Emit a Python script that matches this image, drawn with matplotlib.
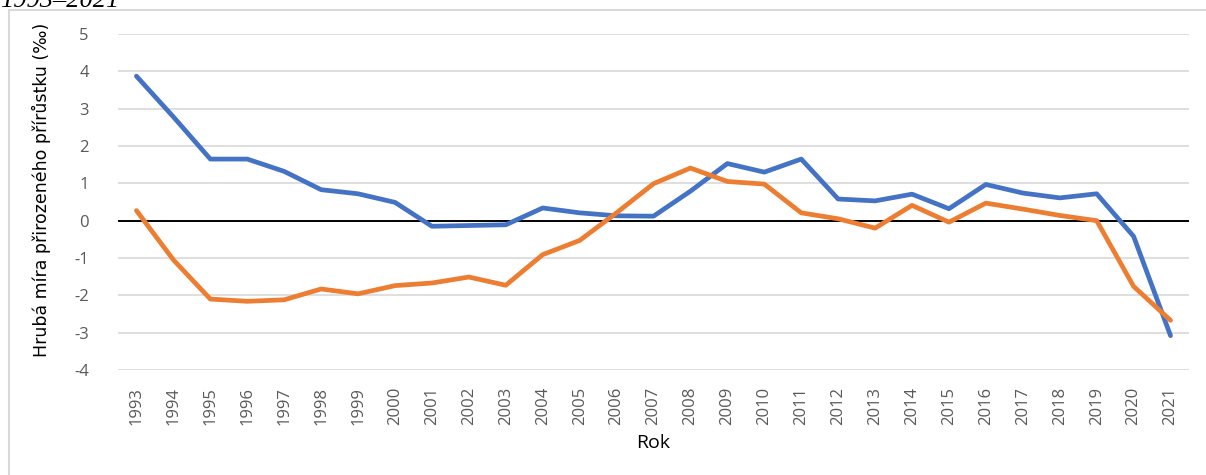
import matplotlib
matplotlib.use("Agg")
import matplotlib.pyplot as plt
from matplotlib.patches import Rectangle

roky = [str(r) for r in range(1993, 2022)]

modra = [3.87, 2.78, 1.65, 1.65, 1.32, 0.83, 0.72, 0.49, -0.15, -0.13,
         -0.11, 0.34, 0.21, 0.13, 0.12, 0.79, 1.53, 1.30, 1.65, 0.58,
         0.53, 0.71, 0.32, 0.97, 0.74, 0.61, 0.72, -0.42, -3.08]

oranzova = [0.27, -1.05, -2.10, -2.16, -2.12, -1.83, -1.96, -1.74, -1.67, -1.51,
            -1.73, -0.91, -0.53, 0.21, 0.99, 1.41, 1.05, 0.98, 0.21, 0.05,
            -0.20, 0.41, -0.04, 0.47, 0.31, 0.14, 0.00, -1.76, -2.67]

y_ticks = [-4, -3, -2, -1, 0, 1, 2, 3, 4, 5]

W, H = 1206, 475
fig = plt.figure(figsize=(W / 100, H / 100), dpi=100)
fig.patch.set_facecolor("white")

# chart border (light gray frame, cut at right and bottom)
fig.patches.append(Rectangle((9 / W, -0.05), 1.1, 1 - 10 / H + 0.05,
                             transform=fig.transFigure, fill=False,
                             edgecolor="#d9d9d9", linewidth=1.5))

# caption above the chart, cut off by the top edge as in the source
fig.text(0 / W, 1 - 7 / H, "1993–2021", fontsize=19, style="italic",
         family="Liberation Serif", va="baseline", ha="left", color="black")

ax = fig.add_axes([118 / W, 1 - 370 / H, (1189 - 118) / W, (370 - 34) / H])
x = list(range(len(roky)))

for yv in y_ticks:
    if yv == 0:
        continue
    ax.axhline(yv, color="#d9d9d9", linewidth=1.2, zorder=1)
ax.axhline(0, color="black", linewidth=1.4, zorder=2)

ax.plot(x, modra, color="#4472c4", linewidth=3.4, solid_capstyle="round",
        solid_joinstyle="round", zorder=3)
ax.plot(x, oranzova, color="#ed7d31", linewidth=3.4, solid_capstyle="round",
        solid_joinstyle="round", zorder=3)

ax.set_xlim(-0.5, len(roky) - 0.5)
ax.set_ylim(-4, 5)
ax.set_yticks(y_ticks)
ax.set_yticklabels([str(v) for v in y_ticks])
ax.set_xticks(x)
ax.set_xticklabels(roky, rotation=90)

for s in ax.spines.values():
    s.set_visible(False)
ax.tick_params(axis="both", length=0, labelsize=12, labelcolor="#595959")
ax.tick_params(axis="y", pad=21)
ax.tick_params(axis="x", pad=12)
for lab in ax.get_xticklabels() + ax.get_yticklabels():
    lab.set_family("Open Sans")

ax.set_ylabel("Hrubá míra přirozeného přírůstku (‰)", fontsize=12.5,
              family="DejaVu Sans", color="black")
ax.yaxis.set_label_coords(41 / W, 1 - 190 / H, transform=fig.transFigure)
ax.set_xlabel("Rok", fontsize=14, family="Open Sans", color="black")
ax.xaxis.set_label_coords(653 / W, 1 - 443 / H, transform=fig.transFigure)
ax.xaxis.label.set_va("center")
ax.yaxis.label.set_va("center")

fig.savefig("out.png", dpi=100)
